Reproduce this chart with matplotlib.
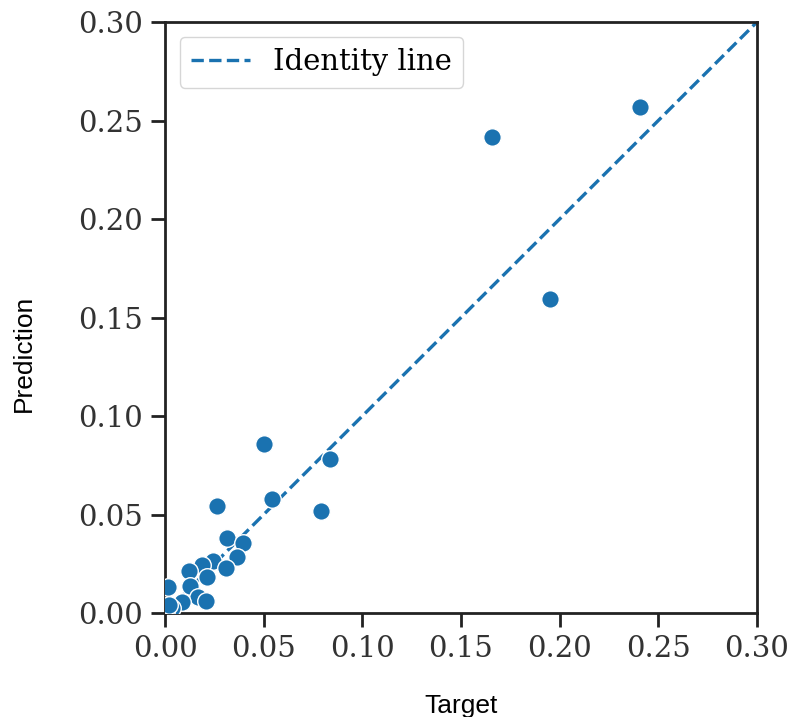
import numpy as np
import matplotlib.pyplot as plt

target = [0.2407, 0.1657, 0.1951, 0.0836, 0.0502, 0.0542, 0.0791, 0.0264,
          0.0314, 0.0395, 0.0365, 0.0243, 0.0309, 0.0188, 0.0122, 0.0213,
          0.0127, 0.0015, 0.0167, 0.0208, 0.0086, 0.0035, 0.0005, 0.0020]
prediction = [0.2569, 0.2416, 0.1594, 0.0782, 0.0858, 0.0579, 0.0518, 0.0543,
              0.0381, 0.0355, 0.0284, 0.0264, 0.0228, 0.0244, 0.0213, 0.0183,
              0.0137, 0.0132, 0.0081, 0.0061, 0.0056, 0.0025, 0.0010, 0.0040]
ticks = [0.00, 0.05, 0.10, 0.15, 0.20, 0.25, 0.30]

color = '#1a72b0'

fig = plt.figure(figsize=(7.91, 7.17), dpi=100)
ax = fig.add_axes([0.2086, 0.145, 0.7484, 0.8243])

ax.plot([0, 0.30], [0, 0.30], linestyle='--', color=color, linewidth=2.4,
        label='Identity line', zorder=2)
ax.scatter(target, prediction, s=160, color=color, edgecolors='white',
           linewidths=1.0, zorder=3)

ax.set_xlim(0, 0.30)
ax.set_ylim(0, 0.30)
ax.set_xticks(ticks)
ax.set_yticks(ticks)
ax.set_xticklabels(['%.2f' % t for t in ticks], family='DejaVu Serif', fontsize=21)
ax.set_yticklabels(['%.2f' % t for t in ticks], family='DejaVu Serif', fontsize=21)
ax.tick_params(direction='out', length=10, width=2.0, colors='#222222', pad=6,
               labelcolor='#333333')
for s in ax.spines.values():
    s.set_linewidth(2.0)
    s.set_color('#222222')

ax.set_xlabel('Target', family='Liberation Sans', fontsize=19, labelpad=22)
ax.set_ylabel('Prediction', family='Liberation Sans', fontsize=19, labelpad=30)
ax.yaxis.label.set_y(0.44)

leg = ax.legend(loc='upper left', prop={'family': 'DejaVu Serif', 'size': 21},
                handlelength=2.0, borderpad=0.4, fancybox=True,
                borderaxespad=0.5)
leg.get_frame().set_edgecolor('#cccccc')

fig.savefig('out.png', dpi=100)
